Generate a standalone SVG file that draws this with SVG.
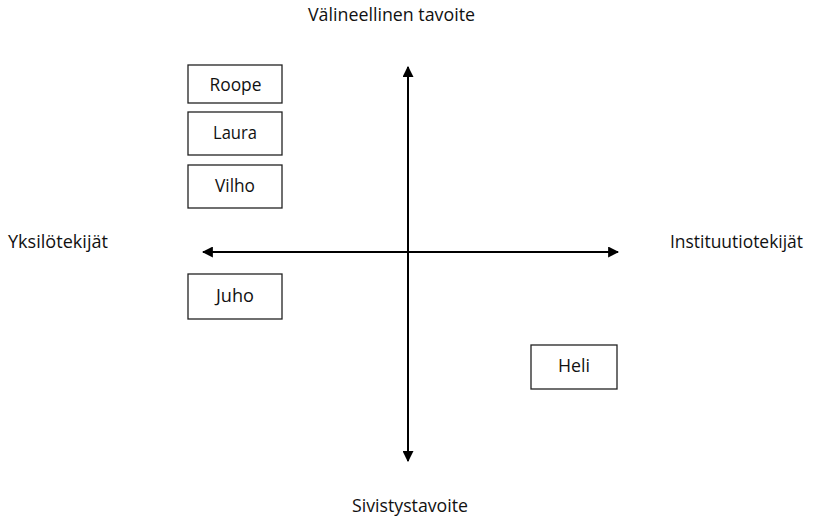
<svg xmlns="http://www.w3.org/2000/svg" width="813" height="517" viewBox="0 0 813 517">
  <style>
    text { font-family: "Open Sans", "Liberation Sans", sans-serif; font-size: 17.5px; fill: #111; }
    .box rect { fill: #fff; stroke: #222; stroke-width: 1.3; }
    .box text { text-anchor: middle; }
    .axis { stroke: #000; stroke-width: 2; fill: none; }
  </style>
  <defs>
    <marker id="head" viewBox="0 0 10 10" refX="9" refY="5" markerWidth="5.5" markerHeight="5.5" orient="auto" markerUnits="strokeWidth">
      <path d="M0,0 L10,5 L0,10 Z" fill="#000"/>
    </marker>
  </defs>
  <rect width="813" height="517" fill="#fff"/>

  <!-- axes -->
  <g id="connectors">
    <line class="axis" x1="408" y1="252" x2="408" y2="67" marker-end="url(#head)"/>
    <line class="axis" x1="408" y1="252" x2="408" y2="461" marker-end="url(#head)"/>
    <line class="axis" x1="408" y1="252" x2="203" y2="252" marker-end="url(#head)"/>
    <line class="axis" x1="408" y1="252" x2="618" y2="252" marker-end="url(#head)"/>
  </g>

  <!-- axis labels -->
  <g id="label-top"><text x="308" y="21" textLength="167" lengthAdjust="spacingAndGlyphs">Välineellinen tavoite</text></g>
  <g id="label-bottom"><text x="352" y="512" textLength="116" lengthAdjust="spacingAndGlyphs">Sivistystavoite</text></g>
  <g id="label-left"><text x="8" y="248" textLength="100" lengthAdjust="spacingAndGlyphs">Yksilötekijät</text></g>
  <g id="label-right"><text x="670" y="248" textLength="133" lengthAdjust="spacingAndGlyphs">Instituutiotekijät</text></g>

  <!-- people -->
  <g id="roope" class="box"><rect x="188" y="65" width="94" height="38"/><text x="235.5" y="91" textLength="52" lengthAdjust="spacingAndGlyphs">Roope</text></g>
  <g id="laura" class="box"><rect x="188" y="112" width="94" height="43"/><text x="235" y="139" textLength="44" lengthAdjust="spacingAndGlyphs">Laura</text></g>
  <g id="vilho" class="box"><rect x="188" y="165" width="94" height="43"/><text x="235" y="192" textLength="40" lengthAdjust="spacingAndGlyphs">Vilho</text></g>
  <g id="juho" class="box"><rect x="188" y="274" width="94" height="45"/><text x="235" y="302" textLength="38" lengthAdjust="spacingAndGlyphs">Juho</text></g>
  <g id="heli" class="box"><rect x="531" y="345" width="86" height="44"/><text x="574" y="372" textLength="32" lengthAdjust="spacingAndGlyphs">Heli</text></g>
</svg>
